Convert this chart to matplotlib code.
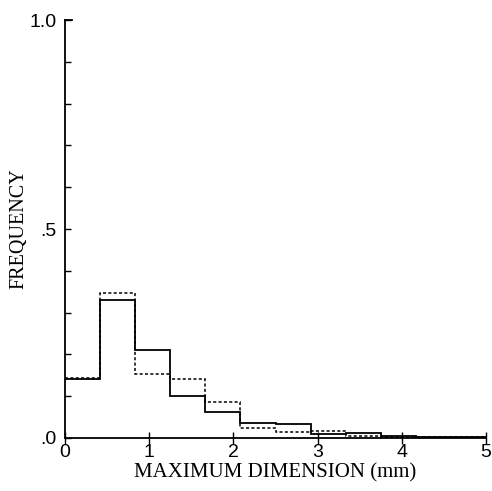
import numpy as np
import matplotlib.pyplot as plt

# histogram bins (mm) and relative frequencies for the two samples
edges = np.linspace(0, 5, 13)
freq_solid = [0.141, 0.330, 0.210, 0.100, 0.062, 0.036, 0.034, 0.010, 0.012, 0.004, 0.002, 0.002]
freq_dashed = [0.143, 0.347, 0.153, 0.141, 0.086, 0.024, 0.014, 0.017, 0.005, 0.003, 0.002, 0.002]

fig = plt.figure(figsize=(4.92, 4.91), dpi=100)
ax = fig.add_axes([0.132, 0.108, 0.856, 0.851])

ax.stairs(freq_solid, edges, baseline=None, color="black", lw=1.3)
ax.stairs(freq_dashed, edges, baseline=None, color="black", lw=1.1, linestyle=(0, (2, 1.5)))

ax.set_xlim(0, 5)
ax.set_ylim(0, 1.0)
for s in ["top", "right"]:
    ax.spines[s].set_visible(False)
ax.spines["left"].set_linewidth(1.3)
ax.spines["bottom"].set_linewidth(1.3)

ax.set_xticks(range(6))
ax.set_xticklabels([str(i) for i in range(6)], fontsize=14, family="Liberation Sans")
ax.tick_params(axis="x", direction="inout", length=8, width=1.0, pad=0)

ax.set_yticks([0, 0.5, 1.0])
ax.set_yticklabels([".0", ".5", "1.0"], fontsize=14, family="Liberation Sans")
ax.set_yticks(np.arange(0, 1.01, 0.1), minor=True)
ax.tick_params(axis="y", which="both", direction="in", length=4, width=1.0, pad=6)
ax.plot([0, 0.08], [1.0, 1.0], color="black", lw=1.3, clip_on=False)

ax.set_xlabel("MAXIMUM DIMENSION (mm)", fontsize=15, family="Liberation Serif", labelpad=2)
ax.set_ylabel("FREQUENCY", fontsize=14.5, family="Liberation Serif", labelpad=1)

fig.savefig("out.png", dpi=100)
